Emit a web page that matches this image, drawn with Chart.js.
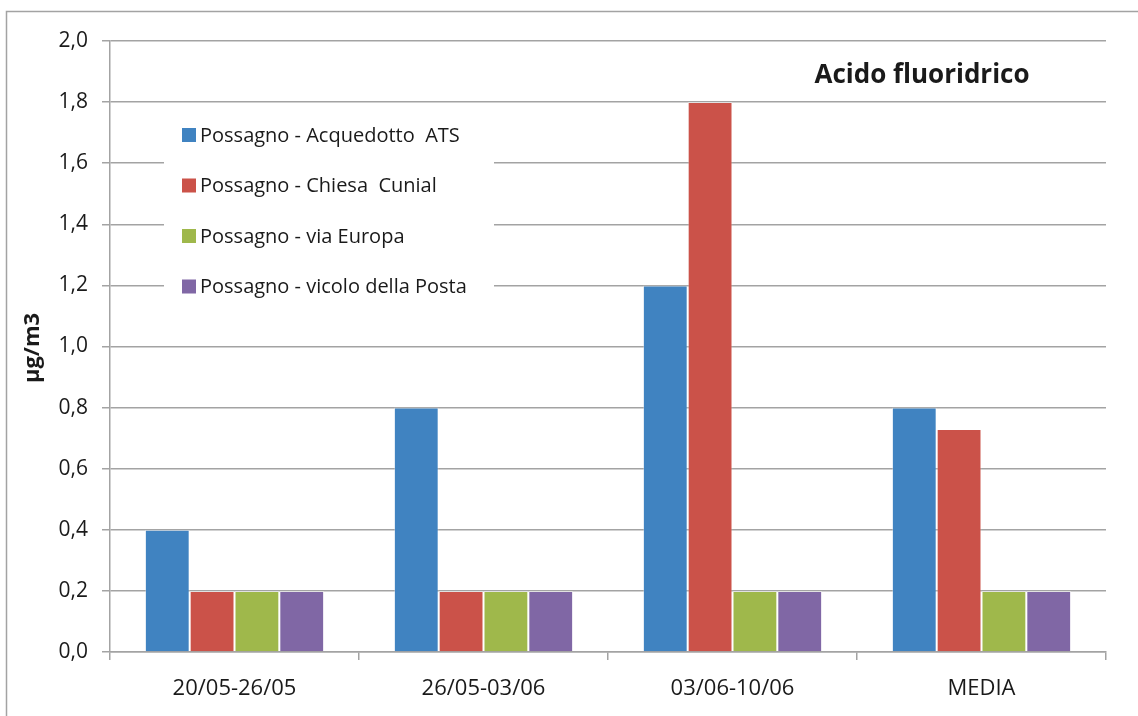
<!DOCTYPE html>
<html>
<head>
<meta charset="utf-8">
<script src="https://cdn.jsdelivr.net/npm/chart.js@4.4.0/dist/chart.umd.min.js"></script>
<style>
  html, body { margin: 0; padding: 0; background: #fff; }
</style>
</head>
<body>
<canvas id="chart" width="1138" height="716"></canvas>
<script>
// periodi di campionamento + media
var periodi = ['20/05-26/05', '26/05-03/06', '03/06-10/06', 'MEDIA'];

// concentrazioni in µg/m3 per stazione
var acquedotto = [0.4, 0.8, 1.2, 0.8];
var chiesa     = [0.2, 0.2, 1.8, 0.73];
var europa     = [0.2, 0.2, 0.2, 0.2];
var posta      = [0.2, 0.2, 0.2, 0.2];

var stazioni = [
  'Possagno - Acquedotto  ATS',
  'Possagno - Chiesa  Cunial',
  'Possagno - via Europa',
  'Possagno - vicolo della Posta'
];
var colori = ['#4083c1', '#cb5249', '#9fb84b', '#8067a5'];

var titolo = 'Acido fluoridrico';
var unita = 'µg/m3';

var FONT = "'Open Sans', 'Noto Sans', sans-serif";
var GRIGIO = '#a3a3a3';
var TESTO = '#1a1a1a';

// cornice, titolo, etichetta asse y e legenda dentro l'area del grafico
var decorazioni = {
  id: 'decorazioni',
  afterDraw: function(chart) {
    var ctx = chart.ctx;
    var area = chart.chartArea;
    ctx.save();

    ctx.strokeStyle = GRIGIO;
    ctx.lineWidth = 1.5;
    ctx.beginPath();
    ctx.moveTo(6.5, chart.height);
    ctx.lineTo(6.5, 11.5);
    ctx.lineTo(chart.width, 11.5);
    ctx.stroke();

    ctx.fillStyle = TESTO;
    ctx.textAlign = 'center';
    ctx.textBaseline = 'middle';
    ctx.font = 'bold 26px ' + FONT;
    ctx.fillText(titolo, 922, 76);

    ctx.save();
    ctx.translate(33, 348);
    ctx.rotate(-Math.PI / 2);
    ctx.font = 'bold 22px ' + FONT;
    ctx.fillText(unita, 0, 0);
    ctx.restore();

    // legenda con sfondo bianco sopra la griglia
    var lx = area.left + 54, ly = area.top + 67;
    ctx.fillStyle = '#fff';
    ctx.fillRect(lx, ly, 330, 200);
    ctx.textAlign = 'left';
    ctx.font = '20px ' + FONT;
    chart.data.datasets.forEach(function(ds, i) {
      var y = ly + 27 + i * 50.5;
      ctx.fillStyle = ds.backgroundColor;
      ctx.fillRect(lx + 18, y - 7, 14, 14);
      ctx.fillStyle = TESTO;
      ctx.fillText(ds.label, lx + 36, y + 1);
    });

    ctx.restore();
  }
};

var serie = [acquedotto, chiesa, europa, posta];
var datasets = serie.map(function(valori, i) {
  return {
    label: stazioni[i],
    data: valori,
    backgroundColor: colori[i],
    borderColor: 'rgba(255,255,255,0.35)',
    borderWidth: 1,
    categoryPercentage: 0.72,
    barPercentage: 1.0
  };
});

var ctx = document.getElementById('chart').getContext('2d');
var chart = new Chart(ctx, {
  type: 'bar',
  data: { labels: periodi, datasets: datasets },
  options: {
    responsive: false,
    animation: false,
    devicePixelRatio: 1,
    layout: { padding: { top: 41, right: 32, left: 0, bottom: 0 } },
    plugins: {
      legend: { display: false },
      tooltip: { enabled: false }
    },
    scales: {
      x: {
        grid: {
          offset: true,
          drawOnChartArea: false,
          color: GRIGIO,
          lineWidth: 1.5,
          tickLength: 8
        },
        border: { color: GRIGIO, width: 1.5 },
        ticks: {
          color: TESTO,
          font: { family: FONT, size: 22 },
          padding: 16,
          maxRotation: 0
        },
        afterFit: function(s) { s.height = 64; }
      },
      y: {
        min: 0,
        max: 2,
        ticks: {
          stepSize: 0.2,
          color: TESTO,
          font: { family: FONT, size: 21 },
          padding: 14,
          callback: function(v) { return v.toFixed(1).replace('.', ','); }
        },
        grid: { color: GRIGIO, lineWidth: 1.5, tickLength: 8 },
        border: { color: GRIGIO, width: 1.5 },
        afterFit: function(s) { s.width = 110; }
      }
    }
  },
  plugins: [decorazioni]
});
</script>
</body>
</html>
